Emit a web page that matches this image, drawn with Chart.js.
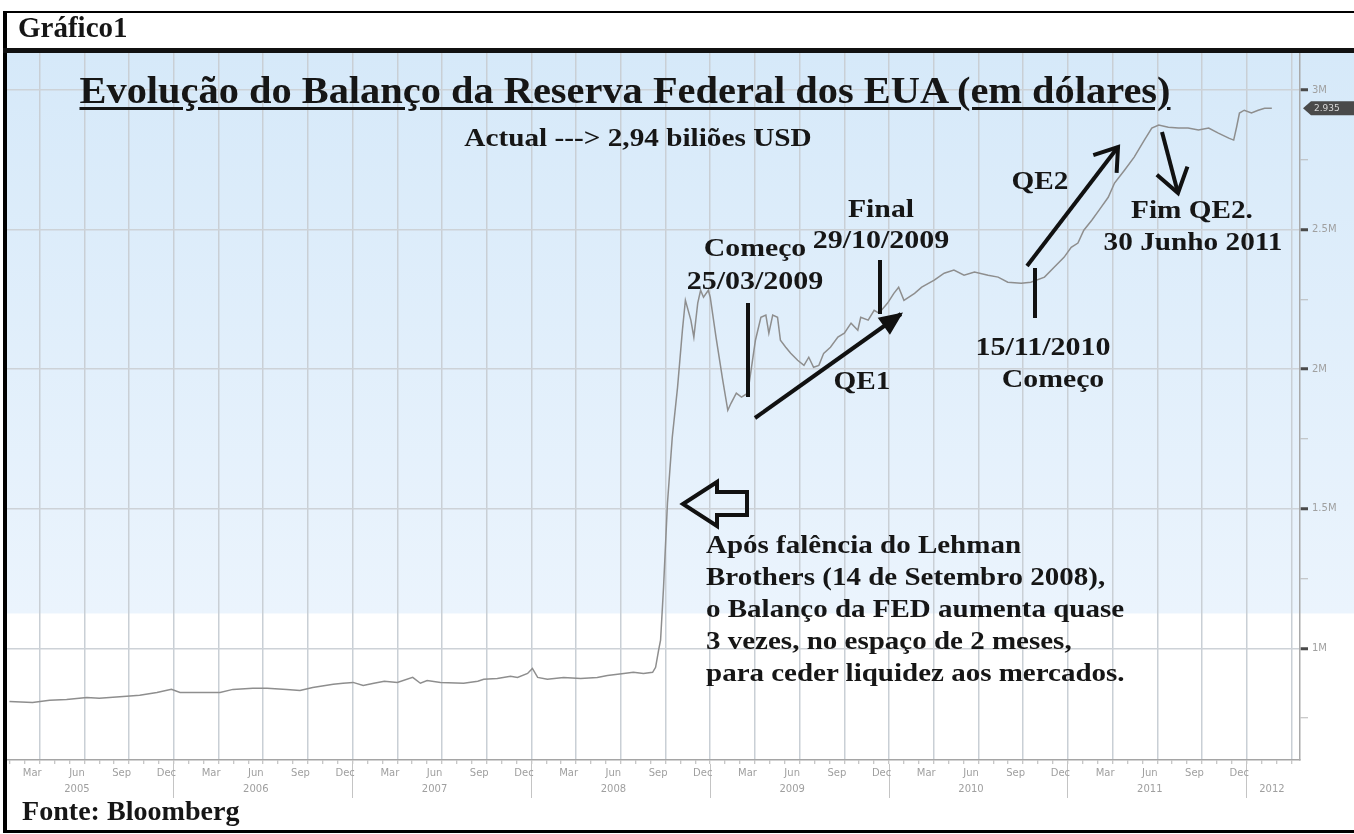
<!DOCTYPE html>
<html>
<head>
<meta charset="utf-8">
<script src="https://cdn.jsdelivr.net/npm/chart.js@4.4.1/dist/chart.umd.min.js"></script>
<style>
body { margin: 0; width: 1354px; height: 834px; background: #fff; position: relative; overflow: hidden; font-family: 'Liberation Serif', 'Times New Roman', serif; }
#frame { position: absolute; left: 3px; top: 11px; width: 1400px; height: 817px; border: solid #000; border-width: 2px 0 3px 4px; }
#hdrline { position: absolute; left: 3px; top: 48px; width: 1400px; height: 5px; background: #111; }
#c { position: absolute; left: 7px; top: 53px; }
#marks { position: absolute; left: 0; top: 0; }
.t { position: absolute; font-weight: bold; color: #161616; white-space: nowrap; line-height: 1; }
</style>
</head>
<body>
<div id="frame"></div>
<div id="hdrline"></div>
<canvas id="c" width="1347" height="747"></canvas>
<svg id="marks" width="1354" height="834" viewBox="0 0 1354 834"></svg>
<script>
// weekly readings of the Fed balance sheet (in millions of millions USD)
const dates = [
  '2005-01-31','2005-03-17','2005-04-21','2005-05-26','2005-07-06','2005-08-01','2005-09-26','2005-10-23',
  '2005-11-27','2005-12-27','2006-01-14','2006-02-24','2006-04-04','2006-04-30','2006-06-10','2006-07-09',
  '2006-08-19','2006-09-15','2006-10-11','2006-11-22','2006-12-12','2007-01-02','2007-01-23','2007-02-13',
  '2007-03-05','2007-04-01','2007-05-02','2007-05-18','2007-06-01','2007-06-28','2007-08-15','2007-09-13',
  '2007-09-25','2007-10-23','2007-11-19','2007-12-03','2007-12-24','2008-01-03','2008-01-14','2008-02-03',
  '2008-03-06','2008-04-10','2008-05-14','2008-06-04','2008-07-07','2008-07-27','2008-08-17','2008-09-05',
  '2008-09-11','2008-09-17','2008-09-21','2008-09-27','2008-10-05','2008-10-15','2008-10-26','2008-11-05',
  '2008-11-11','2008-11-22','2008-11-28','2008-12-06','2008-12-12','2008-12-18','2008-12-28','2009-01-01',
  '2009-01-13','2009-01-27','2009-02-06','2009-02-12','2009-02-22','2009-03-04','2009-03-17','2009-04-02',
  '2009-04-13','2009-04-23','2009-04-29','2009-05-07','2009-05-17','2009-05-23','2009-06-03','2009-06-13',
  '2009-06-27','2009-07-10','2009-07-20','2009-07-30','2009-08-10','2009-08-20','2009-09-03','2009-09-18',
  '2009-10-01','2009-10-15','2009-10-29','2009-11-04','2009-11-19','2009-12-01','2009-12-11','2009-12-29',
  '2010-01-11','2010-01-21','2010-02-01','2010-02-21','2010-03-07','2010-04-02','2010-04-22','2010-05-12',
  '2010-06-02','2010-06-23','2010-07-21','2010-08-11','2010-08-31','2010-09-27','2010-10-17','2010-11-14',
  '2010-12-04','2010-12-24','2011-01-08','2011-01-22','2011-02-03','2011-02-18','2011-03-04','2011-03-23',
  '2011-04-05','2011-04-25','2011-05-15','2011-06-05','2011-06-20','2011-07-04','2011-07-24','2011-08-14',
  '2011-09-03','2011-09-24','2011-10-15','2011-11-04','2011-11-25','2011-12-05','2011-12-11','2011-12-17',
  '2011-12-27','2012-01-11','2012-01-25','2012-02-07','2012-02-21'
];
const values = [
  0.810,0.806,0.814,0.817,0.824,0.821,0.828,0.832,
  0.842,0.853,0.842,0.842,0.842,0.853,0.857,0.857,
  0.853,0.849,0.860,0.871,0.875,0.878,0.867,0.875,
  0.882,0.878,0.896,0.875,0.885,0.878,0.875,0.882,
  0.889,0.892,0.900,0.896,0.910,0.928,0.896,0.889,
  0.896,0.892,0.896,0.903,0.910,0.914,0.910,0.914,
  0.932,0.993,1.029,1.219,1.520,1.756,1.935,2.140,
  2.247,2.176,2.115,2.237,2.283,2.258,2.283,2.258,
  2.115,1.961,1.853,1.878,1.914,1.900,1.914,2.104,
  2.186,2.194,2.129,2.194,2.186,2.104,2.079,2.057,
  2.032,2.014,2.043,2.007,2.014,2.057,2.079,2.115,
  2.129,2.165,2.140,2.186,2.176,2.211,2.201,2.237,
  2.272,2.294,2.247,2.272,2.294,2.319,2.344,2.355,
  2.337,2.348,2.337,2.330,2.312,2.308,2.312,2.330,
  2.366,2.401,2.437,2.452,2.498,2.534,2.570,2.616,
  2.667,2.713,2.760,2.821,2.864,2.875,2.867,2.864,
  2.864,2.857,2.864,2.846,2.828,2.821,2.867,2.918,
  2.928,2.918,2.928,2.935,2.935
];
const monthNames = ['Mar', 'Jun', 'Sep', 'Dec'];
const years = ['2005', '2006', '2007', '2008', '2009', '2010', '2011', '2012'];
const yMajor = [1, 1.5, 2, 2.5, 3];
const yMinor = [0.75, 1.25, 1.75, 2.25, 2.75];

// months since 1 Jan 2005
function monthIndex(s) {
  const [y, m, d] = s.split('-').map(Number);
  const dim = new Date(y, m, 0).getDate();
  return (y - 2005) * 12 + (m - 1) + (d - 1) / dim;
}

const points = dates.map((d, i) => ({ x: monthIndex(d), y: values[i] }));
const xMin = 0.805, xMax = 87.58;

// tick objects for the label axis: month names, years under Jun, year separators
const labelTicks = [];
years.forEach((yr, yi) => {
  if (yi > 0) labelTicks.push({ value: yi * 12, txt: '', sep: true });
  if (yi < years.length - 1) {
    monthNames.forEach((mn, mi) => {
      const v = yi * 12 + 2.5 + mi * 3;
      labelTicks.push({ value: v, txt: mn === 'Jun' ? [mn, yr] : mn, sep: false });
    });
  } else {
    labelTicks.push({ value: yi * 12 + 1.7, txt: ['', yr], sep: false });
  }
});
labelTicks.sort((a, b) => a.value - b.value);

const noPad = s => { s.paddingTop = 0; s.paddingBottom = 0; s.paddingLeft = 0; s.paddingRight = 0; };

const bgPlugin = {
  id: 'bg',
  beforeDraw(chart) {
    const { ctx, chartArea, scales } = chart;
    const yb = scales.y.getPixelForValue(1.125);
    const g = ctx.createLinearGradient(0, chartArea.top, 0, yb);
    g.addColorStop(0, '#d6e9f9');
    g.addColorStop(1, '#ebf4fd');
    ctx.save();
    ctx.fillStyle = g;
    ctx.fillRect(chartArea.left, chartArea.top, chart.width - chartArea.left, yb - chartArea.top);
    ctx.restore();
  },
  afterDraw(chart) {
    // last value badge on the right axis
    const { ctx, chartArea, scales } = chart;
    const last = values[values.length - 1];
    const yv = scales.y.getPixelForValue(last);
    const x0 = chartArea.right + 3;
    ctx.save();
    ctx.fillStyle = '#4a4a4a';
    ctx.beginPath();
    ctx.moveTo(x0, yv);
    ctx.lineTo(x0 + 8, yv - 7);
    ctx.lineTo(chart.width, yv - 7);
    ctx.lineTo(chart.width, yv + 7);
    ctx.lineTo(x0 + 8, yv + 7);
    ctx.closePath();
    ctx.fill();
    ctx.fillStyle = '#d8d8d8';
    ctx.font = '9px "DejaVu Sans"';
    ctx.textBaseline = 'middle';
    ctx.fillText(last.toFixed(3), x0 + 11, yv + 0.5);
    ctx.restore();
  }
};

new Chart(document.getElementById('c'), {
  type: 'line',
  data: {
    datasets: [{
      data: points,
      borderColor: '#8e8e8e',
      borderWidth: 1.5,
      pointRadius: 0,
      tension: 0,
      xAxisID: 'x',
      yAxisID: 'y'
    }]
  },
  options: {
    responsive: false,
    animation: false,
    layout: { padding: 0 },
    plugins: { legend: { display: false }, tooltip: { enabled: false } },
    scales: {
      x: {
        type: 'linear', position: 'bottom', weight: 1,
        min: xMin, max: xMax,
        afterBuildTicks: s => { s.ticks = []; for (let m = 1; m <= 87; m++) s.ticks.push({ value: m }); },
        afterFit: s => { noPad(s); s.height = 4; },
        ticks: { display: false },
        grid: {
          color: c => (c.tick && c.tick.value % 3 === 0) ? '#c9cfd5' : 'rgba(0,0,0,0)',
          lineWidth: 1.5,
          drawTicks: true, tickLength: 4,
          tickColor: '#b5b5b5', tickWidth: 1
        },
        border: { display: true, color: '#a5a5a5', width: 1.5 }
      },
      xl: {
        type: 'linear', position: 'bottom', weight: 2,
        min: xMin, max: xMax,
        afterBuildTicks: s => { s.ticks = labelTicks.map(t => Object.assign({}, t)); },
        afterFit: s => { noPad(s); s.height = 36; },
        ticks: {
          autoSkip: false, maxRotation: 0, minRotation: 0,
          padding: -32,
          color: '#9f9f9f',
          font: { family: 'DejaVu Sans', size: 10, lineHeight: 1.55 },
          callback: (v, i, ticks) => ticks[i].txt
        },
        grid: {
          drawOnChartArea: false,
          drawTicks: true, tickLength: 34,
          tickColor: c => (c.tick && c.tick.sep) ? '#c4c4c4' : 'rgba(0,0,0,0)',
          tickWidth: 1
        },
        border: { display: false }
      },
      y: {
        type: 'linear', position: 'right',
        min: 0.6, max: 3.133,
        afterBuildTicks: s => {
          s.ticks = yMajor.map(v => ({ value: v, major: true }))
            .concat(yMinor.map(v => ({ value: v, major: false })))
            .sort((a, b) => a.value - b.value);
        },
        afterFit: s => { noPad(s); s.width = 54; },
        ticks: {
          padding: 4,
          color: '#a0a0a0',
          font: { family: 'DejaVu Sans', size: 10 },
          callback: (v, i, ticks) => ticks[i].major ? v + 'M' : ''
        },
        grid: {
          color: c => (c.tick && yMajor.includes(c.tick.value)) ? '#cdd2d7' : 'rgba(0,0,0,0)',
          lineWidth: 1.5,
          drawTicks: true, tickLength: 8,
          tickColor: c => (c.tick && yMajor.includes(c.tick.value)) ? '#4a4a4a' : '#b8b8b8',
          tickWidth: c => (c.tick && yMajor.includes(c.tick.value)) ? 3 : 1
        },
        border: { display: true, color: '#a9a9a9', width: 1.5 }
      }
    }
  },
  plugins: [bgPlugin]
});

// texts
function addText(str, x, cy, size, sx, align) {
  const d = document.createElement('div');
  d.className = 't';
  d.textContent = str;
  d.style.fontSize = size + 'px';
  d.style.top = (cy - size / 2) + 'px';
  d.style.left = x + 'px';
  if (align === 'left') {
    d.style.transformOrigin = 'left center';
    d.style.transform = 'scaleX(' + sx + ')';
  } else {
    d.style.transformOrigin = 'center center';
    d.style.transform = 'translateX(-50%) scaleX(' + sx + ')';
  }
  document.body.appendChild(d);
  return d;
}

addText('Gráfico1', 18, 27, 29, 1, 'left');
const ttl = addText('Evolução do Balanço da Reserva Federal dos EUA (em dólares)', 625, 90, 38, 1.063, 'center');
ttl.style.textDecoration = 'underline';
ttl.style.textDecorationThickness = '3px';
ttl.style.textUnderlineOffset = '4px';
addText('Actual ---> 2,94 biliões USD', 638, 137, 25, 1.17, 'center');
addText('Começo', 755, 247, 25, 1.19, 'center');
addText('25/03/2009', 755, 280, 25, 1.2, 'center');
addText('Final', 881, 208, 25, 1.19, 'center');
addText('29/10/2009', 881, 239, 25, 1.2, 'center');
addText('QE1', 862, 380, 25, 1.17, 'center');
addText('15/11/2010', 1043, 346, 25, 1.2, 'center');
addText('Começo', 1053, 378, 25, 1.19, 'center');
addText('QE2', 1040, 180, 25, 1.17, 'center');
addText('Fim QE2.', 1192, 209, 25, 1.17, 'center');
addText('30 Junho 2011', 1193, 241, 25, 1.17, 'center');
const lehman = [
  'Após falência do Lehman',
  'Brothers (14 de Setembro 2008),',
  'o Balanço da FED aumenta quase',
  '3 vezes, no espaço de 2 meses,',
  'para ceder liquidez aos mercados.'
];
lehman.forEach((ln, i) => addText(ln, 706, 544 + i * 32, 25, 1.16, 'left'));
addText('Fonte: Bloomberg', 22, 811, 27, 1.04, 'left');

// hand drawn markers and arrows
const svg = document.getElementById('marks');
const NS = 'http://www.w3.org/2000/svg';
function el(tag, attrs) {
  const e = document.createElementNS(NS, tag);
  for (const k in attrs) e.setAttribute(k, attrs[k]);
  svg.appendChild(e);
  return e;
}
function arrow(x1, y1, x2, y2, len, ang, filled) {
  el('line', { x1, y1, x2, y2, stroke: '#111', 'stroke-width': 4 });
  const a = Math.atan2(y2 - y1, x2 - x1);
  const p1 = [x2 - len * Math.cos(a - ang), y2 - len * Math.sin(a - ang)];
  const p2 = [x2 - len * Math.cos(a + ang), y2 - len * Math.sin(a + ang)];
  if (filled) {
    el('polygon', { points: `${x2},${y2} ${p1[0]},${p1[1]} ${p2[0]},${p2[1]}`, fill: '#111', stroke: '#111', 'stroke-width': 2 });
  } else {
    el('polyline', { points: `${p1[0]},${p1[1]} ${x2},${y2} ${p2[0]},${p2[1]}`, fill: 'none', stroke: '#111', 'stroke-width': 4, 'stroke-linejoin': 'miter' });
  }
}
el('line', { x1: 748, y1: 303, x2: 748, y2: 397, stroke: '#111', 'stroke-width': 4 });
el('line', { x1: 880, y1: 260, x2: 880, y2: 314, stroke: '#111', 'stroke-width': 4 });
el('line', { x1: 1035, y1: 268, x2: 1035, y2: 318, stroke: '#111', 'stroke-width': 4 });
arrow(755, 418, 901, 314, 22, 0.42, true);
arrow(1027, 266, 1118, 147, 26, 0.6, false);
arrow(1162, 132, 1178, 193, 28, 0.6, false);
el('polygon', { points: '683,504 717,482 717,492 747,492 747,515 717,515 717,526', fill: 'none', stroke: '#111', 'stroke-width': 4, 'stroke-linejoin': 'miter' });
</script>
</body>
</html>
